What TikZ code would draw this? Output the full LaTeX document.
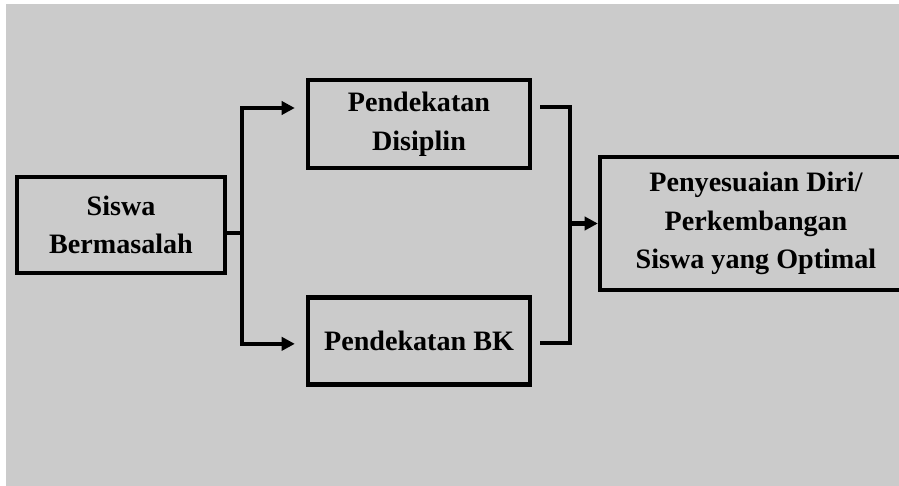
\documentclass[tikz,border=0pt]{standalone}
\usepackage{fontspec}
\setmainfont{Liberation Serif}
\usetikzlibrary{arrows.meta,calc,positioning}
\definecolor{bggray}{RGB}{203,203,203}

\begin{document}
\begin{tikzpicture}[x=0.02cm, y=-0.02cm, >={Triangle[length=7.5pt,width=7.5pt]},
    line width=2.5pt,
    box/.style={rectangle, draw, fill=bggray, align=center, inner sep=2pt,
      font=\fontsize{16}{22}\selectfont\bfseries},
    link/.style={line width=2.5pt},
    arrow/.style={link, ->}]
    % page and background
    \useasboundingbox (0,0) rectangle (899,486);
    \fill[white] (0,0) rectangle (899,486);
    \fill[bggray] (6,4) rectangle (899,486);
    \clip (0,0) rectangle (899,486);

    \node[box, minimum width=4.16cm, minimum height=1.92cm] (siswa) at (121,225) {Siswa\\Bermasalah};
    \node[box, minimum width=4.44cm, minimum height=1.76cm] (dis) at (419,124) {Pendekatan\\Disiplin};
    \node[box, minimum width=4.44cm, minimum height=1.74cm, below=2.5cm of dis] (bk) {Pendekatan BK};
    \node[box, minimum width=6.24cm, minimum height=2.66cm] (final) at (756,223.5) {Penyesuaian Diri/\\Perkembangan\\Siswa yang Optimal};

    \draw[link] ([shift={(0,8)}]siswa.east) -- ++(15,0) coordinate (fork);
    \draw[arrow] (fork) |- ([shift={(-11,-16)}]dis.west);
    \draw[arrow] (fork) |- ([shift={(-11,3)}]bk.west);

    \coordinate (join) at ($(final.west)+(-28,0)$);
    \draw[link] ([shift={(8,-17)}]dis.east) -| (join);
    \draw[link] ([shift={(8,2)}]bk.east) -| (join);
    \draw[arrow] (join) -- (final.west);
\end{tikzpicture}
\end{document}
